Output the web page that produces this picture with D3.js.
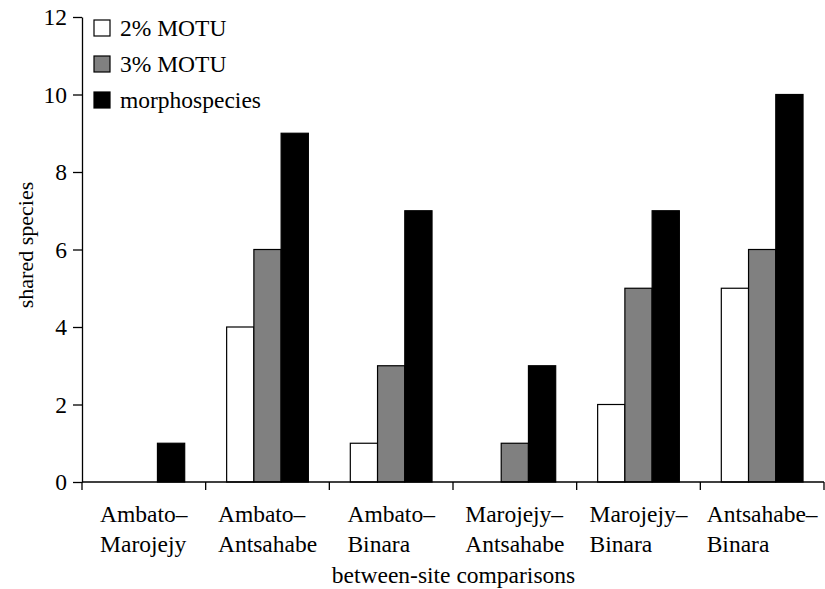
<!DOCTYPE html>
<html>
<head>
<meta charset="utf-8">
<script src="https://cdn.jsdelivr.net/npm/d3@7"></script>
<style>
  body { margin: 0; background: #fff; }
</style>
</head>
<body>
<svg id="chart" width="825" height="589" font-family="Tinos" font-size="23.5"></svg>
<script>
// site pairs, split over two lines like the original
const comparisons = [
    ["Ambato–", "Marojejy"],
    ["Ambato–", "Antsahabe"],
    ["Ambato–", "Binara"],
    ["Marojejy–", "Antsahabe"],
    ["Marojejy–", "Binara"],
    ["Antsahabe–", "Binara"]
];
const seriesNames = ["2% MOTU", "3% MOTU", "morphospecies"];
const motu2 = [0, 4, 1, 0, 2, 5];
const motu3 = [0, 6, 3, 1, 5, 6];
const morpho = [1, 9, 7, 3, 7, 10];
const yTicks = [0, 2, 4, 6, 8, 10, 12];

const fills = ["#ffffff", "#808080", "#000000"];

const svg = d3.select("#chart");
const margin = { top: 17, right: 1, bottom: 107, left: 82 };
const width = 825;
const height = 589;

const x = d3.scaleBand()
    .domain(d3.range(comparisons.length))
    .range([margin.left, width - margin.right]);

const xSub = d3.scaleBand()
    .domain(d3.range(seriesNames.length))
    .range([0, x.bandwidth()])
    .paddingOuter(0.77);

const y = d3.scaleLinear()
    .domain([0, 12])
    .range([height - margin.bottom, margin.top]);

const series = [motu2, motu3, morpho];

/* bars, one group per comparison; zero values are left out */
series.forEach((values, s) => {
    svg.append("g")
        .selectAll("rect")
        .data(values.map((v, i) => ({ i, v })).filter(d => d.v > 0))
        .enter().append("rect")
        .attr("x", d => x(d.i) + xSub(s))
        .attr("y", d => y(d.v))
        .attr("width", xSub.bandwidth())
        .attr("height", d => y(0) - y(d.v))
        .attr("fill", fills[s])
        .attr("stroke", "#000")
        .attr("stroke-width", 1.2);
});

// y axis (drop the sans-serif d3 puts on the group so the svg font carries through)
const yAxis = svg.append("g")
    .attr("transform", `translate(${margin.left},0)`)
    .call(d3.axisLeft(y).tickValues(yTicks).tickSize(9).tickPadding(6).tickSizeOuter(0));
yAxis.attr("font-family", null).attr("font-size", null);
yAxis.selectAll("text").attr("fill", "#000");
yAxis.selectAll("line, path").attr("stroke", "#000").attr("stroke-width", 1.3);

// x axis with ticks at band edges
const xAxis = svg.append("g")
    .attr("transform", `translate(0,${y(0)})`);
xAxis.append("line")
    .attr("x1", margin.left).attr("x2", width - margin.right)
    .attr("stroke", "#000").attr("stroke-width", 1.3);
xAxis.selectAll(".edge")
    .data(d3.range(comparisons.length + 1))
    .enter().append("line")
    .attr("class", "edge")
    .attr("x1", i => i < comparisons.length ? x(i) : x(i - 1) + x.bandwidth())
    .attr("x2", i => i < comparisons.length ? x(i) : x(i - 1) + x.bandwidth())
    .attr("y1", 0).attr("y2", 8)
    .attr("stroke", "#000").attr("stroke-width", 1.3);

// category labels: two lines, left aligned, block centred in the band
comparisons.forEach((lines, i) => {
    const t = svg.append("text");
    lines.forEach((line, k) => {
        t.append("tspan")
            .attr("y", 522 + k * 30)
            .text(line);
    });
    const widest = d3.max(t.selectAll("tspan").nodes(), n => n.getComputedTextLength());
    t.selectAll("tspan").attr("x", x(i) + x.bandwidth() / 2 - widest / 2);
});

// axis titles
svg.append("text")
    .attr("x", (margin.left + width) / 2)
    .attr("y", 583)
    .attr("text-anchor", "middle")
    .text("between-site comparisons");

svg.append("text")
    .attr("transform", "translate(33,245) rotate(-90)")
    .attr("text-anchor", "middle")
    .attr("font-size", 22)
    .text("shared species");

// legend
const legend = svg.append("g");
seriesNames.forEach((name, s) => {
    const cy = 28 + s * 36;
    legend.append("rect")
        .attr("x", 94).attr("y", cy - 8)
        .attr("width", 16).attr("height", 16)
        .attr("fill", fills[s])
        .attr("stroke", "#000")
        .attr("stroke-width", 1.2);
    legend.append("text")
        .attr("x", 120).attr("y", cy + 8)
        .text(name);
});
</script>
</body>
</html>
